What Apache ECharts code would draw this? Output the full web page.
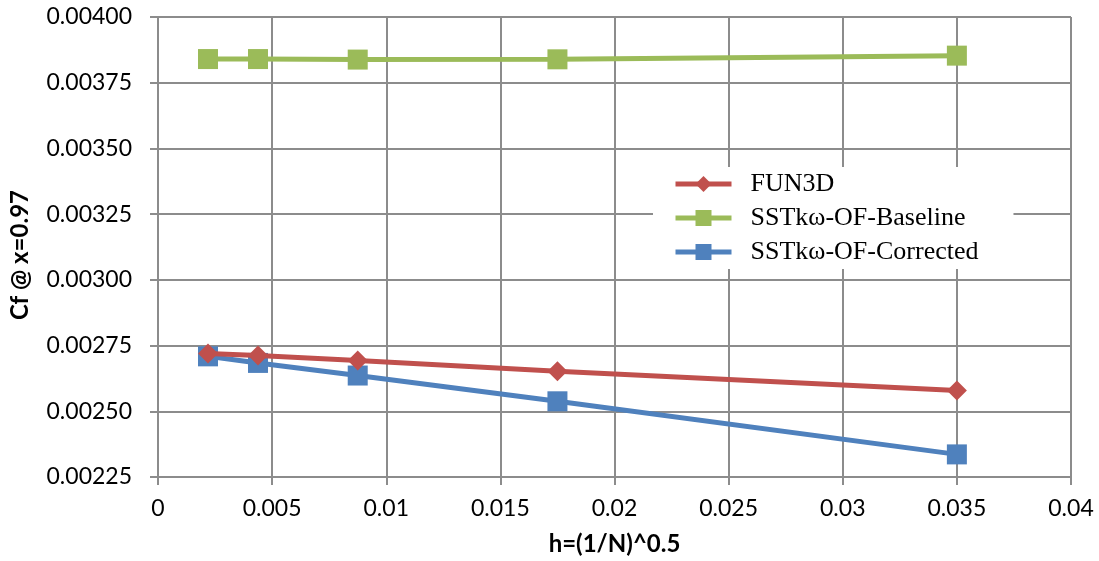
<!DOCTYPE html>
<html><head><meta charset="utf-8">
<script src="https://cdn.jsdelivr.net/npm/echarts@6/dist/echarts.min.js"></script>
<style>html,body{margin:0;padding:0;background:#fff}#c{width:1099px;height:561px}</style>
</head><body><div id="c"></div>
<script>
const hValues = [0.00219, 0.00438, 0.00875, 0.0175, 0.035];
const fun3d = [0.002720, 0.002712, 0.002693, 0.002652, 0.002579];
const baseline = [0.003840, 0.003840, 0.003838, 0.003839, 0.003853];
const corrected = [0.002709, 0.002684, 0.002636, 0.002538, 0.002336];
const seriesNames = ['FUN3D', 'SSTk\u03c9-OF-Baseline', 'SSTk\u03c9-OF-Corrected'];
const colors = ['#C0504D', '#9BBB59', '#4F81BD'];

const pair = arr => hValues.map((h, i) => [h, arr[i]]);
const chart = echarts.init(document.getElementById('c'), null, {renderer: 'canvas'});
const gridColor = '#8c8c8c';
const mk = (name, data, color, symbol, size) => ({
  name, type: 'line', data: pair(data), symbol, symbolSize: size,
  lineStyle: {color, width: 5}, itemStyle: {color}, z: symbol === 'diamond' ? 3 : 2
});
chart.setOption({
  animation: false,
  color: colors,
  grid: {left: 158, right: 28, top: 17, bottom: 83, containLabel: false},
  legend: {
    left: 653, top: 167, orient: 'vertical', itemWidth: 56, itemHeight: 20, itemGap: 8,
    backgroundColor: '#fff',
    padding: [4, 35, 4, 20],
    lineStyle: {width: 5},
    textStyle: {fontFamily: 'Liberation Serif', fontSize: 26, lineHeight: 26, color: '#000', padding: [0, 0, 0, 14]},
    data: seriesNames
  },
  xAxis: {
    type: 'value', min: 0, max: 0.04, interval: 0.005,
    name: 'h=(1/N)^0.5', nameLocation: 'middle', nameGap: 55,
    nameTextStyle: {fontFamily: 'Lato', fontWeight: 'bold', fontSize: 24, color: '#000'},
    axisLine: {show: true, lineStyle: {color: gridColor, width: 2}},
    axisTick: {show: true, length: 8, lineStyle: {color: gridColor, width: 2}},
    axisLabel: {fontFamily: 'Lato', fontSize: 23, color: '#000', margin: 20,
      formatter: v => String(parseFloat(v.toFixed(4)))},
    splitLine: {show: true, lineStyle: {color: gridColor, width: 2}}
  },
  yAxis: {
    type: 'value', min: 0.00225, max: 0.004, interval: 0.00025,
    name: 'Cf @ x=0.97', nameLocation: 'middle', nameGap: 126, nameRotate: 90,
    nameTextStyle: {fontFamily: 'Lato', fontWeight: 'bold', fontSize: 24, color: '#000', padding: [0, 16, 0, 0]},
    axisLine: {show: true, lineStyle: {color: gridColor, width: 2}},
    axisTick: {show: true, length: 8, lineStyle: {color: gridColor, width: 2}},
    axisLabel: {fontFamily: 'Lato', fontSize: 23, color: '#000', margin: 26,
      formatter: v => v.toFixed(5)},
    splitLine: {show: true, lineStyle: {color: gridColor, width: 2}}
  },
  series: [
    mk(seriesNames[0], fun3d, colors[0], 'diamond', 20),
    mk(seriesNames[1], baseline, colors[1], 'rect', 20),
    mk(seriesNames[2], corrected, colors[2], 'rect', 20)
  ]
});
</script></body></html>
